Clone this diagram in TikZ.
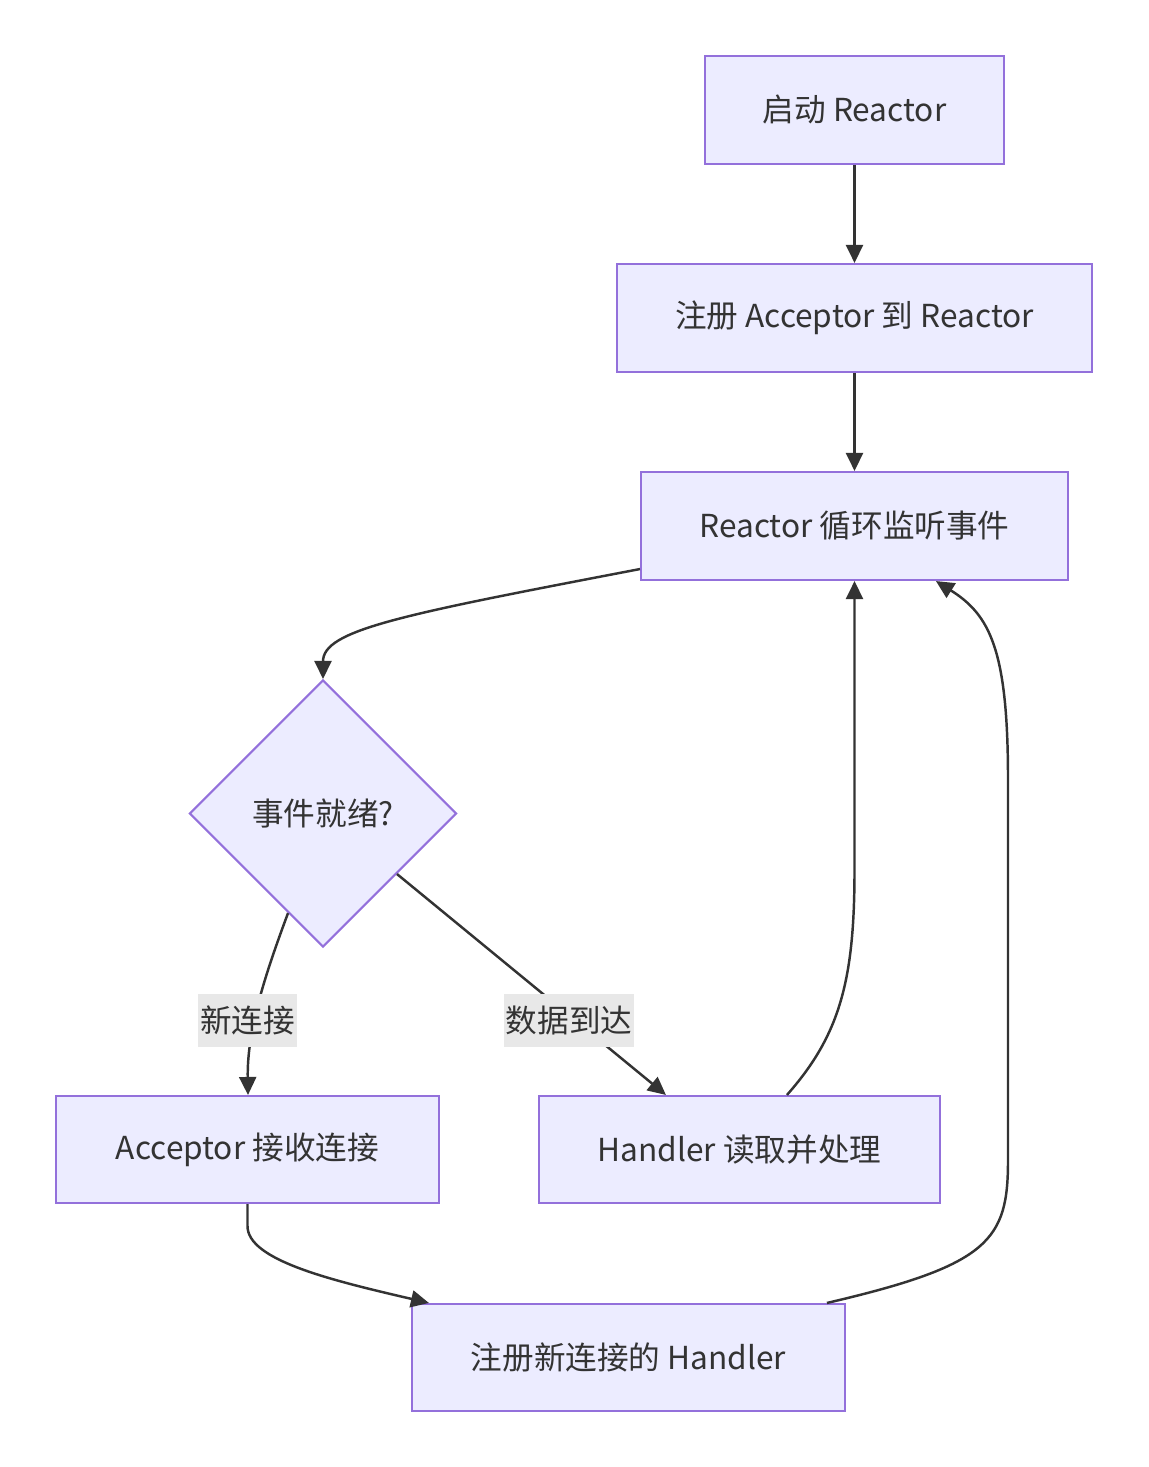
\documentclass[tikz,border=0pt]{standalone}
\usepackage{fontspec}
\setmainfont{Noto Sans CJK SC}
\usepackage{tikz}
\usetikzlibrary{arrows.meta,shapes.geometric,positioning,calc}

\definecolor{nodefill}{HTML}{ECECFF}
\definecolor{nodeline}{HTML}{9370DB}
\definecolor{edgeline}{HTML}{333333}
\definecolor{lblfill}{HTML}{E8E8E8}

\begin{document}
\begin{tikzpicture}[
    >={Triangle[length=0.18cm, width=0.17cm]},
    font=\fontsize{9}{11}\selectfont,
    text=edgeline,
    block/.style={draw=nodeline, fill=nodefill, line width=0.6pt, rectangle, minimum height=1.08cm, align=center},
    decision/.style={draw=nodeline, fill=nodefill, line width=0.6pt, diamond, minimum width=2.67cm, minimum height=2.67cm, inner sep=0pt, align=center},
    lbl/.style={fill=lblfill, inner xsep=0.02cm, minimum height=0.47cm},
    flow/.style={draw=edgeline, line width=0.7pt, ->}
]

    \useasboundingbox (0,0) rectangle (11.48,-14.67);

    \node[block, minimum width=2.99cm] (start)   at (8.545,-1.10)  {启动 Reactor};
    \node[block, minimum width=4.75cm] (reg)     at (8.545,-3.18)  {注册 Acceptor 到 Reactor};
    \node[block, minimum width=4.27cm] (loop)    at (8.545,-5.26)  {Reactor 循环监听事件};
    \node[decision]                    (ready)   at (3.23,-8.135)  {事件就绪?};
    \node[block, minimum width=3.83cm, minimum height=1.07cm] (accept)  at (2.475,-11.495) {Acceptor 接收连接};
    \node[block, minimum width=4.01cm, minimum height=1.07cm] (handle)  at (7.395,-11.495) {Handler 读取并处理};
    \node[block, minimum width=4.33cm, minimum height=1.07cm] (newh)    at (6.285,-13.575) {注册新连接的 Handler};

    \draw[flow] (start) -- (reg);
    \draw[flow] (reg) -- (loop);

    \draw[flow] ($(loop.south west)+(0,0.12)$) .. controls (4.00,-6.15) and (3.23,-6.30) .. (ready.north);

    \draw[flow] ($(ready.west)!0.74!(ready.south)$) .. controls (2.65,-9.75) and (2.47,-10.30) .. ($(accept.north)+(0.005,0)$);
    \draw[flow] ($(ready.east)!0.45!(ready.south)$) -- ($(handle.north west)+(1.28,0)$);

    \draw[flow] ($(handle.north west)+(2.49,0)$) .. controls (8.40,-10.35) and (8.545,-9.80) .. (8.545,-8.70) -- (loop.south);
    \draw[flow] ($(newh.north west)+(4.16,0)$) .. controls (9.90,-12.65) and (10.08,-12.40) .. (10.08,-11.60)
        -- (10.08,-7.80) .. controls (10.08,-6.50) and (9.90,-6.15) .. ($(loop.south west)+(2.96,0)$);

    \draw[flow] (accept.south) -- ++(0,-0.22) .. controls (2.475,-12.60) and (3.30,-12.80) .. ($(newh.north west)+(0.18,0)$);

    % edge labels
    \node[lbl] (lnew)  at (2.475,-10.205) {新连接};
    \node[lbl] (ldata) at (5.69,-10.205)  {数据到达};

\end{tikzpicture}
\end{document}
